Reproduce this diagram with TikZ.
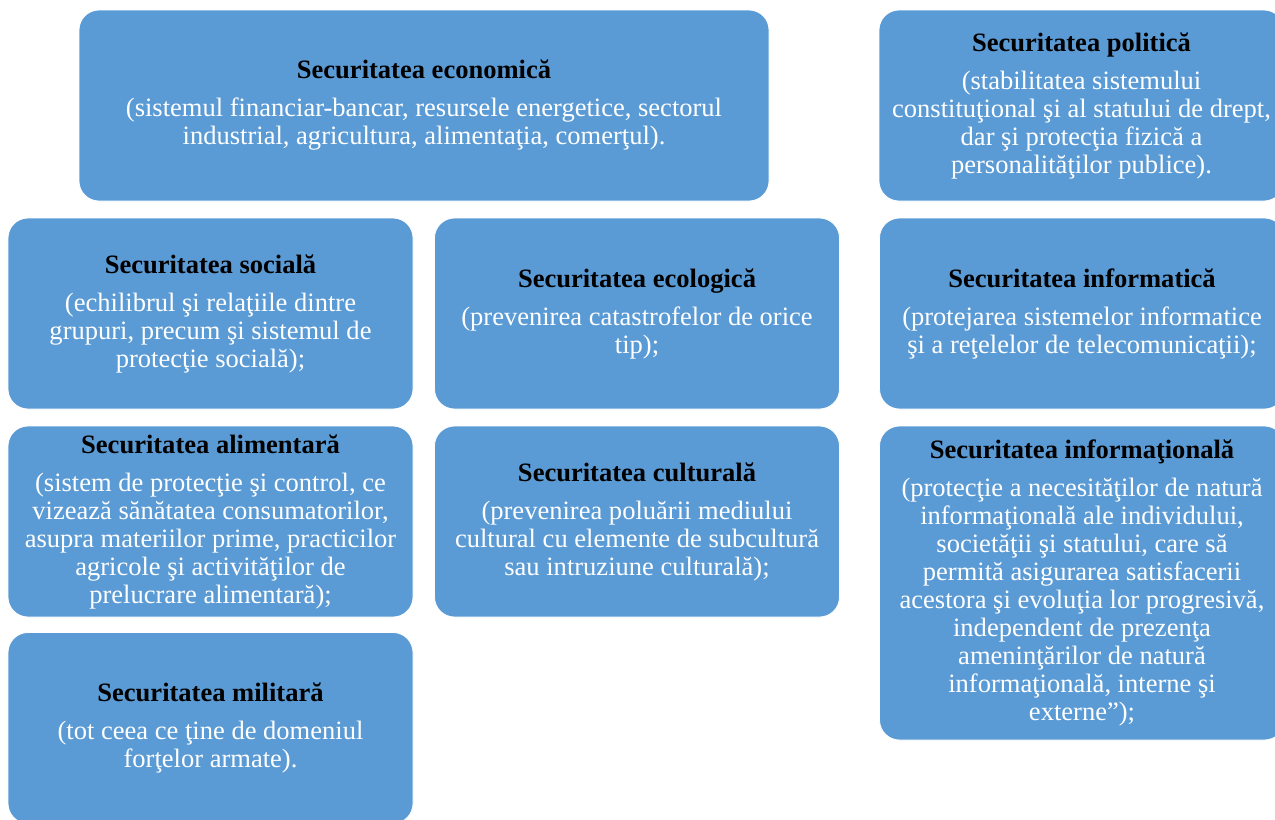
\documentclass[tikz,border=0pt]{standalone}
\usepackage{fontspec}
\setmainfont{Liberation Serif}
\definecolor{boxblue}{RGB}{91,155,213}
\newcommand{\titlu}[1]{\textcolor{black}{\textbf{#1}}\\[7.5pt]}
\tikzset{
  box/.style={rectangle, rounded corners=15pt, fill=boxblue, draw=white,
    line width=0.6pt, text=white, align=center,
    minimum width=303.75pt, minimum height=143.25pt, inner sep=2pt,
    font=\fontsize{19.9}{21}\selectfont}
}
\begin{document}
\begin{tikzpicture}[x=0.75pt,y=-0.75pt]
  \useasboundingbox (0,0) rectangle (1275,819);
  \clip (0,0) rectangle (1275,819);
  % first row
  \node[box, minimum width=517.5pt] (econ) at (424,105.5)
    {\titlu{Securitatea economică}(sistemul financiar-bancar, resursele energetice, sectorul\\ industrial, agricultura, alimentaţia, comerţul).};
  \node[box] (polit) at (1081.5,105.5)
    {\titlu{Securitatea politică}(stabilitatea sistemului\\ constituţional şi al statului de drept,\\ dar şi protecţia fizică a\\ personalităţilor publice).};
  % second row
  \node[box] (sociala) at (210.5,313.5)
    {\titlu{Securitatea socială}(echilibrul şi relaţiile dintre\\ grupuri, precum şi sistemul de\\ protecţie socială);};
  \node[box] (ecologica) at (637,313.5)
    {\titlu{Securitatea ecologică}(prevenirea catastrofelor de orice\\ tip);};
  \node[box] (informatica) at (1082,313.5)
    {\titlu{Securitatea informatică}(protejarea sistemelor informatice\\ şi a reţelelor de telecomunicaţii);};
  % third row
  \node[box] (alimentara) at (210.5,521.5)
    {\titlu{Securitatea alimentară}(sistem de protecţie şi control, ce\\ vizează sănătatea consumatorilor,\\ asupra materiilor prime, practicilor\\ agricole şi activităţilor de\\ prelucrare alimentară);};
  \node[box] (culturala) at (637,521.5)
    {\titlu{Securitatea culturală}(prevenirea poluării mediului\\ cultural cu elemente de subcultură\\ sau intruziune culturală);};
  \node[box, minimum height=235.5pt] (informationala) at (1082,583)
    {\titlu{Securitatea informaţională}(protecţie a necesităţilor de natură\\ informaţională ale individului,\\ societăţii şi statului, care să\\ permită asigurarea satisfacerii\\ acestora şi evoluţia lor progresivă,\\ independent de prezenţa\\ ameninţărilor de natură\\ informaţională, interne şi\\ externe”);};
  % last row
  \node[box] (militara) at (210.5,728)
    {\titlu{Securitatea militară}(tot ceea ce ţine de domeniul\\ forţelor armate).};
\end{tikzpicture}
\end{document}
